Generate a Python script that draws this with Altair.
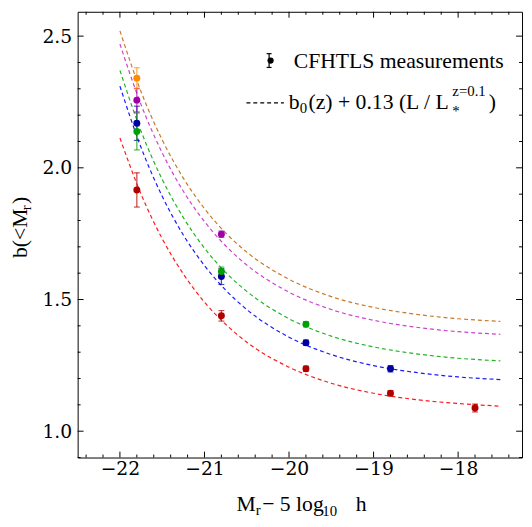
import altair as alt
import pandas as pd

# ---------------- data ----------------
curve_x = [-22.0, -21.75, -21.5, -21.25, -21.0, -20.75, -20.5, -20.0, -19.5, -19.0, -18.5, -18.0, -17.5]
curve_red = [2.113, 1.900, 1.731, 1.597, 1.490, 1.406, 1.338, 1.243, 1.182, 1.144, 1.120, 1.105, 1.095]
curve_blue = [2.310, 2.077, 1.892, 1.745, 1.629, 1.536, 1.462, 1.357, 1.291, 1.249, 1.223, 1.206, 1.196]
curve_green = [2.370, 2.139, 1.956, 1.811, 1.695, 1.603, 1.531, 1.427, 1.361, 1.320, 1.294, 1.277, 1.267]
curve_magenta = [2.470, 2.240, 2.057, 1.911, 1.796, 1.704, 1.631, 1.528, 1.462, 1.421, 1.395, 1.378, 1.368]
curve_orange = [2.520, 2.289, 2.106, 1.961, 1.845, 1.753, 1.680, 1.577, 1.511, 1.470, 1.444, 1.427, 1.417]

series_names = ["red", "blue", "green", "magenta", "orange"]

point_series = ["red", "red", "red", "red", "red",
                "blue", "blue", "blue", "blue",
                "green", "green", "green",
                "magenta", "magenta",
                "orange"]
point_x = [-21.8, -20.8, -19.8, -18.8, -17.8,
           -21.8, -20.8, -19.8, -18.8,
           -21.8, -20.8, -19.8,
           -21.8, -20.8,
           -21.8]
point_y = [1.916, 1.438, 1.237, 1.144, 1.088,
           2.169, 1.587, 1.336, 1.237,
           2.138, 1.606, 1.406,
           2.257, 1.748,
           2.340]
point_err = [0.065, 0.020, 0.010, 0.010, 0.015,
             0.065, 0.030, 0.010, 0.012,
             0.070, 0.017, 0.010,
             0.045, 0.012,
             0.040]

x_major = [-22, -21, -20, -19, -18]
x_minor = [-22.4, -22.2, -21.8, -21.6, -21.4, -21.2, -20.8, -20.6, -20.4, -20.2,
           -19.8, -19.6, -19.4, -19.2, -18.8, -18.6, -18.4, -18.2, -17.8, -17.6, -17.4]
y_major = [1.0, 1.5, 2.0, 2.5]
y_minor = [0.9, 1.1, 1.2, 1.3, 1.4, 1.6, 1.7, 1.8, 1.9, 2.1, 2.2, 2.3, 2.4]

# ---------------- styles ----------------
line_colors = ["#ff1a1a", "#1a1aff", "#1fb51f", "#cc44cc", "#c87828"]
point_colors = ["#b00000", "#0000a0", "#00a000", "#a000a8", "#ff8c00"]

W, H = 451, 452.4
XD = [-22.5, -17.244]
YD = [0.9, 2.5925]
LEFT = 78.7   # page x of plot left edge
TOP = 8.0     # page y of plot top edge
SERIF = "Liberation Serif"

def px(x):
    return x - LEFT

def py(y):
    return y - TOP

xscale = alt.Scale(domain=XD, nice=False, zero=False)
yscale = alt.Scale(domain=YD, nice=False, zero=False)
xaxis = alt.Axis(values=x_major, format="d", grid=False, ticks=False, domain=False,
                 labelFont="DejaVu Serif", labelFontSize=19, labelColor="black",
                 labelPadding=2, title=None, labelFlush=False)
yaxis = alt.Axis(values=y_major, format=".1f", grid=False, ticks=False, domain=False,
                 labelFont="DejaVu Serif", labelFontSize=19, labelColor="black",
                 labelPadding=6, title=None, labelFlush=False)

def X(field):
    return alt.X(field, type="quantitative", scale=xscale, axis=xaxis)

def Y(field):
    return alt.Y(field, type="quantitative", scale=yscale, axis=yaxis)

rows = []
for name, vals in zip(series_names, [curve_red, curve_blue, curve_green, curve_magenta, curve_orange]):
    for xv, yv in zip(curve_x, vals):
        rows.append({"s": name, "x": xv, "y": yv})
curves = pd.DataFrame(rows)

pts = pd.DataFrame({"s": point_series, "x": point_x, "y": point_y, "e": point_err})
pts["lo"] = pts["y"] - pts["e"]
pts["hi"] = pts["y"] + pts["e"]

line_color = dict(zip(series_names, line_colors))
pt_color = dict(zip(series_names, point_colors))

layers = []
for name in series_names:
    layers.append(
        alt.Chart(curves[curves["s"] == name]).mark_line(
            strokeDash=[4, 3], strokeWidth=1.2, interpolate="monotone", color=line_color[name]
        ).encode(x=X("x"), y=Y("y"))
    )

for name in series_names:
    d = pts[pts["s"] == name]
    c = pt_color[name]
    layers.append(alt.Chart(d).mark_rule(strokeWidth=1.3, opacity=0.7, color=c).encode(
        x=X("x"), y=Y("lo"), y2="hi"))
    layers.append(alt.Chart(d).mark_tick(orient="horizontal", size=6, thickness=1.2, opacity=0.7, color=c).encode(
        x=X("x"), y=Y("lo")))
    layers.append(alt.Chart(d).mark_tick(orient="horizontal", size=6, thickness=1.2, opacity=0.7, color=c).encode(
        x=X("x"), y=Y("hi")))
for name in series_names:
    d = pts[pts["s"] == name]
    layers.append(alt.Chart(d).mark_point(filled=True, size=50, opacity=1, color=pt_color[name]).encode(
        x=X("x"), y=Y("y")))

xt = pd.DataFrame({"v": x_major + x_minor, "len": [6] * len(x_major) + [3] * len(x_minor)})
yt = pd.DataFrame({"v": y_major + y_minor, "len": [6] * len(y_major) + [3] * len(y_minor)})
xt["b0"] = H
xt["b1"] = H - xt["len"]
xt["t0"] = 0
xt["t1"] = xt["len"]
yt["l0"] = 0
yt["l1"] = yt["len"]
yt["r0"] = W
yt["r1"] = W - yt["len"]

layers += [
    alt.Chart(xt).mark_rule(color="black", strokeWidth=1).encode(
        x=X("v"), y=alt.Y("b0:Q", scale=None), y2="b1:Q"),
    alt.Chart(xt).mark_rule(color="black", strokeWidth=1).encode(
        x=X("v"), y=alt.Y("t0:Q", scale=None), y2="t1:Q"),
    alt.Chart(yt).mark_rule(color="black", strokeWidth=1).encode(
        y=Y("v"), x=alt.X("l0:Q", scale=None), x2="l1:Q"),
    alt.Chart(yt).mark_rule(color="black", strokeWidth=1).encode(
        y=Y("v"), x=alt.X("r0:Q", scale=None), x2="r1:Q"),
]

one = pd.DataFrame({"k": [0]})

def txt(s, x, y, size=22, angle=0, font=SERIF):
    kw = dict(align="left", baseline="alphabetic", font=font, fontSize=size, color="black")
    if angle:
        kw["angle"] = angle
    return alt.Chart(one).mark_text(**kw).encode(
        x=alt.value(px(x)), y=alt.value(py(y)), text=alt.value(s))

layers += [
    # x title: M_r - 5 log_10 h
    txt("M", 240, 515),
    txt("r", 259.5, 519, size=15),
    txt("\u2212 5 log", 266, 515),
    txt("10", 327, 520, size=15),
    txt("h", 361, 515),
    # y title: b(<M_r)
    txt("b(<M", 27, 258, angle=270),
    txt("r", 31, 209.5, angle=270, size=15),
    txt(")", 27, 203, angle=270),
    # legend
    txt("CFHTLS measurements", 298, 65),
    txt("b", 293, 107),
    txt("0", 304, 111, size=15),
    txt("(z) + 0.13 (L / L", 313, 107),
    txt("*", 459, 114, size=15),
    txt("z=0.1", 459, 93, size=15),
    txt(")", 496, 107),
]

layers += [
    alt.Chart(one).mark_rule(color="black", strokeWidth=1.2).encode(
        x=alt.value(px(273)), y=alt.value(py(50.5)), y2=alt.value(py(64.5))),
    alt.Chart(one).mark_rule(color="black", strokeWidth=1.2).encode(
        x=alt.value(px(270.5)), x2=alt.value(px(275.5)), y=alt.value(py(50.5))),
    alt.Chart(one).mark_rule(color="black", strokeWidth=1.2).encode(
        x=alt.value(px(270.5)), x2=alt.value(px(275.5)), y=alt.value(py(64.5))),
    alt.Chart(one).mark_point(filled=True, size=40, color="black", opacity=1).encode(
        x=alt.value(px(274.5)), y=alt.value(py(57.5))),
    alt.Chart(one).mark_rule(color="black", strokeWidth=1.1, strokeDash=[4, 3]).encode(
        x=alt.value(px(250)), x2=alt.value(px(288)), y=alt.value(py(100.5))),
]

chart = alt.layer(*layers).properties(
    width=W, height=H,
    autosize=alt.AutoSizeParams(type="none"),
    padding={"left": LEFT - 8, "top": TOP - 8, "right": 2, "bottom": 62},
).configure_view(stroke="black", strokeWidth=1)

chart.save("out.html", embed_options={"renderer": "svg", "actions": False})
